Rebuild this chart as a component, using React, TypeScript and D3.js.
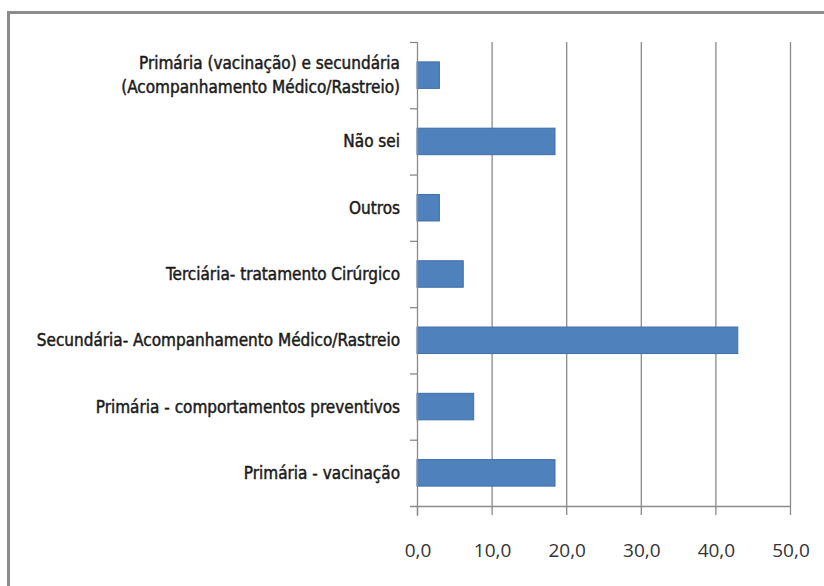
import React, { useEffect, useRef } from 'react';
import * as d3 from 'd3';

const categories = [
  'Primária (vacinação) e secundária|(Acompanhamento Médico/Rastreio)',
  'Não sei',
  'Outros',
  'Terciária- tratamento Cirúrgico',
  'Secundária- Acompanhamento Médico/Rastreio',
  'Primária - comportamentos preventivos',
  'Primária - vacinação',
];
const values = [3.0, 18.5, 3.0, 6.2, 43.0, 7.6, 18.5];
const xTicks = [0, 10, 20, 30, 40, 50];

export default function App() {
  const ref = useRef<SVGSVGElement>(null);
  const width = 824;
  const height = 586;
  const m = { top: 42, left: 417, right: 34, bottom: 80 };

  useEffect(() => {
    const svg = d3.select(ref.current);
    svg.selectAll('*').remove();

    // outer frame (runs off the right and bottom edges)
    svg.append('rect')
      .attr('x', 8.5).attr('y', 12.5)
      .attr('width', 900).attr('height', 700)
      .attr('fill', 'white')
      .attr('stroke', '#8c8c8c').attr('stroke-width', 3);

    const x = d3.scaleLinear().domain([0, 50]).range([m.left, width - m.right]);
    const y = d3.scaleBand().domain(categories).range([m.top, height - m.bottom]).paddingInner(0.6).paddingOuter(0.3);
    const yEdge = d3.scaleLinear().domain([0, categories.length]).range([m.top, height - m.bottom]);

    // gridlines
    svg.append('g').selectAll('line').data(xTicks.slice(1)).join('line')
      .attr('x1', d => x(d) + 0.5).attr('x2', d => x(d) + 0.5)
      .attr('y1', m.top).attr('y2', height - m.bottom)
      .attr('stroke', '#8a8a8a').attr('stroke-width', 1.3);

    // bars
    svg.append('g').selectAll('rect').data(values).join('rect')
      .attr('x', x(0))
      .attr('y', (_, i) => y(categories[i])!)
      .attr('width', d => x(d) - x(0))
      .attr('height', y.bandwidth())
      .attr('fill', '#4f81bd')
      .attr('stroke', '#3f6fa6').attr('stroke-width', 1);

    // y axis line and ticks
    const ya = svg.append('g');
    ya.append('line')
      .attr('x1', x(0) + 0.5).attr('x2', x(0) + 0.5)
      .attr('y1', m.top).attr('y2', height - m.bottom + 10)
      .attr('stroke', '#8a8a8a').attr('stroke-width', 1.3);
    ya.selectAll('line.tk').data(d3.range(categories.length)).join('line')
      .attr('class', 'tk')
      .attr('x1', x(0) - 7).attr('x2', x(0))
      .attr('y1', d => yEdge(d) + 0.5).attr('y2', d => yEdge(d) + 0.5)
      .attr('stroke', '#8a8a8a').attr('stroke-width', 1.3);

    // x axis
    const xa = svg.append('g');
    xa.append('line')
      .attr('x1', x(0) - 7).attr('x2', x(50) + 1)
      .attr('y1', height - m.bottom + 0.5).attr('y2', height - m.bottom + 0.5)
      .attr('stroke', '#8a8a8a').attr('stroke-width', 1.3);
    xa.selectAll('line.tk').data(xTicks).join('line')
      .attr('class', 'tk')
      .attr('x1', d => x(d) + 0.5).attr('x2', d => x(d) + 0.5)
      .attr('y1', height - m.bottom).attr('y2', height - m.bottom + 9)
      .attr('stroke', '#8a8a8a').attr('stroke-width', 1.3);
    xa.selectAll('text').data(xTicks).join('text')
      .attr('x', d => x(d) + 1).attr('y', height - m.bottom + 51)
      .attr('text-anchor', 'middle')
      .attr('font-family', 'Open Sans, DejaVu Sans, sans-serif')
      .attr('font-size', 19)
      .attr('fill', '#333')
      .text(d => d3.format('.1f')(d).replace('.', ','));

    // category labels
    const lab = svg.append('g');
    categories.forEach((c, i) => {
      const lines = c.split('|');
      const cy = y(c)! + y.bandwidth() / 2;
      const t = lab.append('text')
        .attr('x', 400)
        .attr('text-anchor', 'end')
        .attr('font-family', 'DejaVu Sans Condensed, sans-serif')
        .attr('font-size', 17)
        .attr('fill', '#1a1a1a')
        .attr('stroke', '#1a1a1a')
        .attr('stroke-width', 0.45);
      lines.forEach((l, j) => {
        t.append('tspan')
          .attr('x', 400)
          .attr('y', cy + 6 + (j - (lines.length - 1) / 2) * 24)
          .text(l);
      });
    });
  }, []);

  return (
    <svg ref={ref} width={width} height={height} style={{ position: 'absolute', left: 0, top: 0, background: 'white' }} />
  );
}
